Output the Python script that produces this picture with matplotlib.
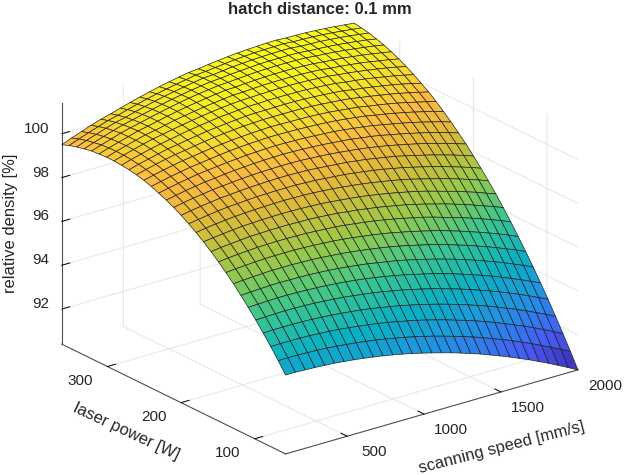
import matplotlib

matplotlib.use("Agg")
import matplotlib.pyplot as plt
import numpy as np
from matplotlib.colors import LinearSegmentedColormap
from mpl_toolkits.mplot3d import proj3d

speed = [100, 163, 227, 290, 353, 417, 480, 543, 607, 670, 733, 797, 860, 923, 987, 1050,
         1113, 1177, 1240, 1303, 1367, 1430, 1493, 1557, 1620, 1683, 1747, 1810, 1873, 1937, 2000]
power = [58.0, 68.1, 78.3, 88.4, 98.5, 108.7, 118.8, 128.9, 139.1, 149.2, 159.3, 169.5, 179.6, 189.7, 199.9, 210.0,
         220.1, 230.3, 240.4, 250.5, 260.7, 270.8, 280.9, 291.1, 301.2, 311.3, 321.5, 331.6, 341.7, 351.9, 362.0]
# one row per laser power, one column per scanning speed
density = [
    [94.00, 94.00, 93.98, 93.96, 93.93, 93.90, 93.85, 93.80, 93.74, 93.67, 93.60, 93.51, 93.42, 93.32, 93.21, 93.09, 92.97, 92.84, 92.70, 92.55, 92.40, 92.23, 92.06, 91.88, 91.69, 91.50, 91.29, 91.08, 90.86, 90.63, 90.40],
    [94.49, 94.49, 94.49, 94.47, 94.45, 94.42, 94.38, 94.33, 94.28, 94.22, 94.15, 94.07, 93.98, 93.89, 93.79, 93.68, 93.56, 93.43, 93.30, 93.16, 93.01, 92.85, 92.68, 92.51, 92.33, 92.14, 91.94, 91.73, 91.52, 91.30, 91.07],
    [94.97, 94.97, 94.97, 94.96, 94.95, 94.92, 94.89, 94.85, 94.80, 94.74, 94.68, 94.61, 94.53, 94.44, 94.34, 94.24, 94.13, 94.01, 93.88, 93.74, 93.60, 93.45, 93.29, 93.12, 92.94, 92.76, 92.57, 92.37, 92.16, 91.94, 91.72],
    [95.41, 95.43, 95.43, 95.43, 95.42, 95.40, 95.37, 95.34, 95.29, 95.24, 95.19, 95.12, 95.04, 94.96, 94.87, 94.77, 94.67, 94.55, 94.43, 94.30, 94.16, 94.02, 93.86, 93.70, 93.53, 93.35, 93.17, 92.97, 92.77, 92.56, 92.34],
    [95.84, 95.86, 95.87, 95.88, 95.87, 95.86, 95.84, 95.81, 95.77, 95.73, 95.67, 95.61, 95.55, 95.47, 95.38, 95.29, 95.19, 95.08, 94.97, 94.84, 94.71, 94.57, 94.42, 94.26, 94.10, 93.93, 93.75, 93.56, 93.37, 93.16, 92.95],
    [96.25, 96.27, 96.29, 96.30, 96.30, 96.29, 96.27, 96.25, 96.22, 96.18, 96.14, 96.08, 96.02, 95.95, 95.87, 95.78, 95.69, 95.58, 95.47, 95.36, 95.23, 95.10, 94.95, 94.80, 94.64, 94.48, 94.30, 94.12, 93.93, 93.73, 93.53],
    [96.63, 96.66, 96.68, 96.70, 96.71, 96.70, 96.69, 96.68, 96.65, 96.62, 96.58, 96.53, 96.47, 96.41, 96.33, 96.25, 96.17, 96.07, 95.96, 95.85, 95.73, 95.60, 95.47, 95.32, 95.17, 95.01, 94.84, 94.67, 94.48, 94.29, 94.09],
    [97.00, 97.03, 97.06, 97.08, 97.10, 97.10, 97.10, 97.08, 97.07, 97.04, 97.00, 96.96, 96.91, 96.85, 96.78, 96.71, 96.63, 96.54, 96.44, 96.33, 96.22, 96.10, 95.97, 95.82, 95.68, 95.52, 95.36, 95.19, 95.01, 94.83, 94.63],
    [97.34, 97.38, 97.41, 97.44, 97.46, 97.47, 97.47, 97.47, 97.45, 97.43, 97.40, 97.37, 97.32, 97.27, 97.20, 97.14, 97.06, 96.98, 96.88, 96.78, 96.67, 96.56, 96.44, 96.30, 96.16, 96.01, 95.85, 95.69, 95.52, 95.34, 95.15],
    [97.66, 97.71, 97.75, 97.78, 97.81, 97.82, 97.83, 97.83, 97.82, 97.81, 97.78, 97.75, 97.72, 97.67, 97.61, 97.55, 97.48, 97.40, 97.31, 97.22, 97.11, 97.01, 96.89, 96.75, 96.62, 96.48, 96.33, 96.17, 96.01, 95.83, 95.65],
    [97.96, 98.02, 98.06, 98.10, 98.14, 98.15, 98.17, 98.17, 98.17, 98.16, 98.15, 98.12, 98.09, 98.05, 97.99, 97.94, 97.87, 97.80, 97.72, 97.63, 97.54, 97.43, 97.32, 97.19, 97.07, 96.93, 96.79, 96.63, 96.47, 96.31, 96.13],
    [98.24, 98.30, 98.35, 98.40, 98.44, 98.46, 98.48, 98.49, 98.50, 98.49, 98.48, 98.46, 98.44, 98.40, 98.35, 98.30, 98.25, 98.18, 98.10, 98.02, 97.93, 97.83, 97.73, 97.61, 97.48, 97.35, 97.22, 97.07, 96.92, 96.75, 96.59],
    [98.50, 98.57, 98.63, 98.68, 98.72, 98.75, 98.77, 98.79, 98.80, 98.81, 98.80, 98.79, 98.77, 98.74, 98.70, 98.65, 98.60, 98.54, 98.47, 98.39, 98.31, 98.22, 98.12, 98.00, 97.88, 97.76, 97.63, 97.49, 97.34, 97.19, 97.02],
    [98.73, 98.80, 98.87, 98.93, 98.98, 99.01, 99.04, 99.07, 99.08, 99.09, 99.09, 99.09, 99.07, 99.05, 99.01, 98.97, 98.93, 98.87, 98.81, 98.74, 98.66, 98.57, 98.48, 98.37, 98.26, 98.14, 98.01, 97.88, 97.74, 97.59, 97.43],
    [98.95, 99.03, 99.10, 99.16, 99.22, 99.25, 99.29, 99.32, 99.34, 99.36, 99.37, 99.37, 99.36, 99.34, 99.31, 99.27, 99.23, 99.19, 99.13, 99.07, 98.99, 98.91, 98.83, 98.72, 98.61, 98.50, 98.38, 98.25, 98.12, 97.97, 97.82],
    [99.14, 99.23, 99.31, 99.37, 99.44, 99.48, 99.52, 99.56, 99.59, 99.61, 99.62, 99.63, 99.63, 99.62, 99.59, 99.56, 99.53, 99.48, 99.43, 99.37, 99.31, 99.23, 99.15, 99.05, 98.95, 98.85, 98.73, 98.61, 98.48, 98.34, 98.20],
    [99.31, 99.40, 99.49, 99.56, 99.63, 99.67, 99.73, 99.77, 99.80, 99.83, 99.85, 99.86, 99.87, 99.86, 99.84, 99.82, 99.79, 99.75, 99.71, 99.66, 99.59, 99.53, 99.45, 99.35, 99.26, 99.16, 99.05, 98.94, 98.81, 98.68, 98.54],
    [99.46, 99.56, 99.65, 99.73, 99.81, 99.86, 99.91, 99.96, 100.00, 100.04, 100.06, 100.08, 100.09, 100.09, 100.07, 100.06, 100.03, 100.00, 99.97, 99.92, 99.86, 99.80, 99.73, 99.64, 99.55, 99.46, 99.36, 99.25, 99.13, 99.01, 98.87],
    [99.60, 99.70, 99.80, 99.88, 99.96, 100.02, 100.08, 100.14, 100.19, 100.23, 100.26, 100.28, 100.30, 100.30, 100.29, 100.28, 100.26, 100.24, 100.21, 100.17, 100.12, 100.06, 100.00, 99.91, 99.83, 99.74, 99.65, 99.54, 99.43, 99.31, 99.18],
    [99.71, 99.82, 99.92, 100.01, 100.10, 100.16, 100.23, 100.29, 100.34, 100.39, 100.42, 100.45, 100.47, 100.49, 100.48, 100.47, 100.46, 100.45, 100.42, 100.39, 100.34, 100.29, 100.24, 100.15, 100.08, 100.00, 99.91, 99.81, 99.70, 99.59, 99.47],
    [99.80, 99.91, 100.02, 100.12, 100.21, 100.27, 100.35, 100.42, 100.48, 100.53, 100.57, 100.61, 100.63, 100.65, 100.65, 100.65, 100.65, 100.64, 100.62, 100.59, 100.55, 100.51, 100.46, 100.38, 100.31, 100.23, 100.15, 100.06, 99.96, 99.85, 99.74],
    [99.86, 99.98, 100.09, 100.20, 100.30, 100.37, 100.45, 100.52, 100.59, 100.64, 100.69, 100.73, 100.77, 100.79, 100.79, 100.80, 100.80, 100.80, 100.78, 100.76, 100.73, 100.69, 100.65, 100.57, 100.51, 100.44, 100.36, 100.28, 100.19, 100.08, 99.97],
    [99.90, 100.03, 100.15, 100.26, 100.36, 100.44, 100.53, 100.61, 100.68, 100.74, 100.80, 100.84, 100.88, 100.92, 100.92, 100.94, 100.94, 100.94, 100.93, 100.92, 100.89, 100.86, 100.82, 100.75, 100.70, 100.64, 100.56, 100.48, 100.40, 100.30, 100.20],
    [99.93, 100.06, 100.19, 100.31, 100.42, 100.50, 100.59, 100.67, 100.75, 100.82, 100.88, 100.94, 100.98, 101.02, 101.03, 101.05, 101.06, 101.07, 101.07, 101.06, 101.04, 101.01, 100.98, 100.92, 100.87, 100.81, 100.74, 100.67, 100.59, 100.50, 100.40],
    [99.93, 100.07, 100.20, 100.32, 100.44, 100.52, 100.62, 100.72, 100.80, 100.87, 100.94, 101.00, 101.05, 101.10, 101.11, 101.14, 101.16, 101.17, 101.17, 101.17, 101.16, 101.14, 101.11, 101.05, 101.01, 100.96, 100.90, 100.83, 100.75, 100.67, 100.58],
    [99.91, 100.06, 100.19, 100.32, 100.45, 100.54, 100.64, 100.74, 100.83, 100.91, 100.98, 101.05, 101.11, 101.16, 101.17, 101.21, 101.23, 101.25, 101.26, 101.26, 101.26, 101.24, 101.22, 101.17, 101.13, 101.09, 101.03, 100.97, 100.90, 100.82, 100.74],
    [99.88, 100.03, 100.17, 100.31, 100.43, 100.53, 100.64, 100.74, 100.84, 100.93, 101.01, 101.08, 101.14, 101.20, 101.22, 101.26, 101.29, 101.32, 101.33, 101.34, 101.34, 101.33, 101.32, 101.27, 101.24, 101.20, 101.15, 101.09, 101.03, 100.96, 100.88],
    [99.81, 99.97, 100.12, 100.26, 100.40, 100.50, 100.61, 100.72, 100.82, 100.92, 101.00, 101.08, 101.15, 101.21, 101.24, 101.29, 101.32, 101.35, 101.38, 101.39, 101.39, 101.39, 101.38, 101.34, 101.31, 101.28, 101.24, 101.19, 101.13, 101.07, 100.99],
    [99.73, 99.90, 100.05, 100.20, 100.34, 100.44, 100.57, 100.68, 100.79, 100.89, 100.98, 101.06, 101.14, 101.21, 101.24, 101.29, 101.34, 101.37, 101.40, 101.42, 101.43, 101.44, 101.43, 101.39, 101.37, 101.35, 101.31, 101.27, 101.22, 101.16, 101.09],
    [99.63, 99.80, 99.96, 100.11, 100.26, 100.37, 100.50, 100.62, 100.73, 100.84, 100.93, 101.02, 101.10, 101.18, 101.22, 101.27, 101.32, 101.37, 101.40, 101.43, 101.44, 101.45, 101.46, 101.42, 101.41, 101.39, 101.36, 101.32, 101.27, 101.22, 101.16],
    [99.50, 99.68, 99.84, 100.00, 100.15, 100.27, 100.40, 100.53, 100.65, 100.76, 100.87, 100.96, 101.05, 101.13, 101.17, 101.24, 101.29, 101.34, 101.38, 101.41, 101.43, 101.45, 101.46, 101.43, 101.42, 101.41, 101.38, 101.35, 101.31, 101.26, 101.21],
]

speed_ticks = [500, 1000, 1500, 2000]
power_ticks = [100, 200, 300]
density_ticks = [92, 94, 96, 98, 100]
parula = [
    (0.0, (0.242, 0.150, 0.660)), (0.125, (0.277, 0.355, 0.977)), (0.25, (0.130, 0.567, 0.900)),
    (0.375, (0.020, 0.700, 0.770)), (0.5, (0.220, 0.780, 0.560)), (0.625, (0.600, 0.790, 0.280)),
    (0.75, (0.870, 0.730, 0.210)), (0.84, (0.990, 0.730, 0.240)), (0.92, (0.965, 0.880, 0.150)),
    (1.0, (0.977, 0.984, 0.080)),
]
text_color = "#262626"
plt.rcParams["font.family"] = ["Liberation Sans", "DejaVu Sans"]

W, H = 626, 475
fig = plt.figure(figsize=(W / 100, H / 100), dpi=100)
side = 565
ax = fig.add_axes([29.7 / W, -51.6 / H, side / W, side / H], projection="3d", proj_type="ortho")
ax.view_init(elev=22.06, azim=-127.45)
ax.set_box_aspect((1, 1, 0.7065))
ax.patch.set_alpha(0)

X, Y = np.meshgrid(speed, power)
ax.plot_surface(
    X,
    Y,
    np.array(density),
    cmap=LinearSegmentedColormap.from_list("parula", parula),
    vmin=90.4,
    vmax=101.46,
    rstride=1,
    cstride=1,
    edgecolor="#222222",
    linewidth=0.5,
    shade=False,
)
ax.set_xlim(100, 2000, view_margin=0)
ax.set_ylim(58, 362, view_margin=0)
ax.set_zlim(90.4, 101.4, view_margin=0)
ax.set_xticks(speed_ticks)
ax.set_yticks(power_ticks)
ax.set_zticks(density_ticks)
ax.tick_params(labelbottom=False, labelleft=False, labelright=False, labeltop=False)
for axis in (ax.xaxis, ax.yaxis, ax.zaxis):
    axis.pane.set_visible(False)
    axis.line.set_color("#4d4d4d")
    axis.line.set_linewidth(0.8)
    axis._axinfo["grid"].update(color="#e8e8e8", linewidth=0.8)
    axis._axinfo["tick"].update(
        inward_factor=0, outward_factor=0.34, color="#4d4d4d", linewidth={True: 0.7, False: 0.5}
    )
    axis.set_major_formatter(matplotlib.ticker.NullFormatter())


def tick_text(x, y, z, label, ha="center"):
    # tick labels sit beside the 3D axes, so place them through the view projection
    px, py, _ = proj3d.proj_transform(x, y, z, ax.get_proj())
    ax.text2D(px, py, str(label), transform=ax.transData, ha=ha, va="center", fontsize=11, color=text_color)


for tick in speed_ticks:
    tick_text(tick - 23, 58 - 41.4, 90.4, tick)
for tick in power_ticks:
    tick_text(100 - 228, tick - 10.9, 90.4, tick)
for tick in density_ticks:
    tick_text(100 - 82.6, 362, tick + 0.395, tick, ha="right")


def pixel_text(x, y, label, **kwargs):
    fig.text(x / W, 1 - y / H, label, ha="center", va="center", color=text_color, **kwargs)


pixel_text(320, 9, "hatch distance: 0.1 mm", fontsize=12, fontweight="bold")
pixel_text(11, 223, "relative density [%]", fontsize=11.9, rotation=90)
pixel_text(126, 432, "laser power [W]", fontsize=11.9, rotation=-25)
pixel_text(501.6, 448, "scanning speed [mm/s]", fontsize=11.9, rotation=14.4)
fig.savefig("out.png", dpi=100)
